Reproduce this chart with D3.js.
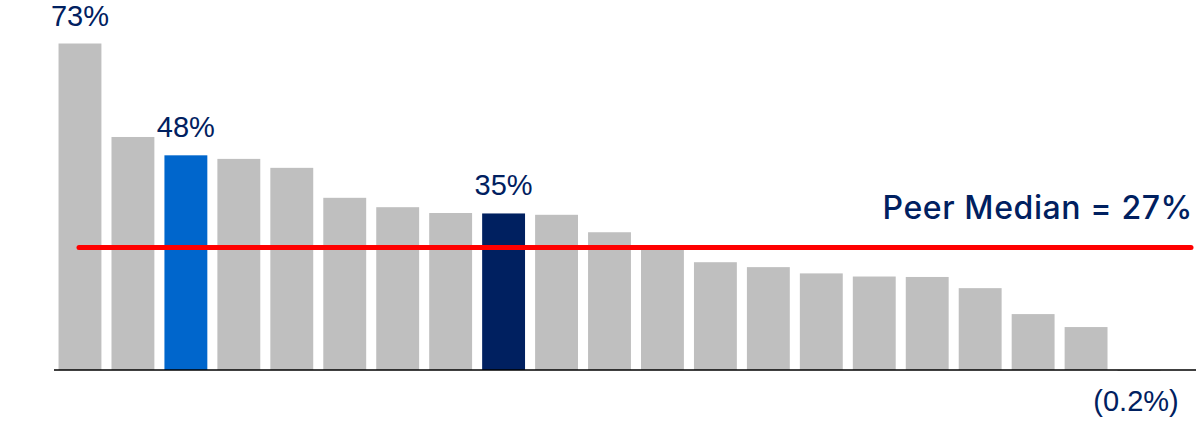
<!DOCTYPE html>
<meta charset="utf-8">
<script src="https://d3js.org/d3.v7.min.js"></script>
<style>
  body { margin: 0; background: #fff; }
  text { font-family: "Liberation Sans", Arial, sans-serif; }
</style>
<div id="chart"></div>
<script>

// bar values, in %
var peers = ["P1","P2","P3","P4","P5","P6","P7","P8","P9","P10","P11",
             "P12","P13","P14","P15","P16","P17","P18","P19","P20","P21"];
var values = [73, 52.1, 48, 47.2, 45.2, 38.5, 36.4, 35.1, 35, 34.7, 30.8,
              27.2, 24.1, 23.0, 21.6, 20.9, 20.8, 18.3, 12.5, 9.6, -0.2];
// which bars get colour and a label
var highlight = { 2: "#0066cc", 8: "#002060" };
var labelled = [0, 2, 8, 20];
var labelText = { 0: "73%", 2: "48%", 8: "35%", 20: "(0.2%)" };
var peerMedian = 27.4;
var medianLabel = "Peer Median = 27%";

var width = 1196, height = 426;

var svg = d3.select("#chart").append("svg")
    .attr("width", width)
    .attr("height", height);

var x = d3.scaleBand()
    .domain(peers)
    .range([53.5, 1165.5])
    .paddingInner(0.19)
    .paddingOuter(0.095);

var y = d3.scaleLinear()
    .domain([0, 73])
    .range([370, 43.5]);

// bars
svg.selectAll(".bar")
  .data(values)
  .enter().append("rect")
    .attr("class", "bar")
    .attr("x", function(d, i) { return x(peers[i]); })
    .attr("width", x.bandwidth())
    .attr("y", function(d) { return y(Math.max(0, d)); })
    .attr("height", function(d) { return Math.abs(y(d) - y(0)); })
    .attr("fill", function(d, i) { return highlight[i] || "#bfbfbf"; });

// baseline
svg.append("line")
    .attr("x1", 54).attr("x2", width)
    .attr("y1", y(0)).attr("y2", y(0))
    .attr("stroke", "#000")
    .attr("stroke-width", 1.5);

// peer median line
svg.append("line")
    .attr("x1", 79).attr("x2", 1191)
    .attr("y1", y(peerMedian)).attr("y2", y(peerMedian))
    .attr("stroke", "#ff0000")
    .attr("stroke-width", 5)
    .attr("stroke-linecap", "round");

svg.append("text")
    .attr("x", 1193)
    .attr("y", y(peerMedian) - 28)
    .attr("text-anchor", "end")
    .attr("fill", "#002060")
    .style("font-family", "Inter, sans-serif")
    .style("font-weight", 500)
    .style("font-size", "32px")
    .style("letter-spacing", "0.6px")
    .text(medianLabel);

// value labels
svg.selectAll(".lbl")
  .data(labelled)
  .enter().append("text")
    .attr("class", "lbl")
    .attr("x", function(i) { return x(peers[i]) + x.bandwidth() / 2 - (values[i] < 0 ? 3 : 0); })
    .attr("y", function(i) { return values[i] < 0 ? y(0) + 41 : y(values[i]) - 18; })
    .attr("text-anchor", "middle")
    .attr("fill", "#002060")
    .style("font-size", "29px")
    .text(function(i) { return labelText[i]; });

</script>
